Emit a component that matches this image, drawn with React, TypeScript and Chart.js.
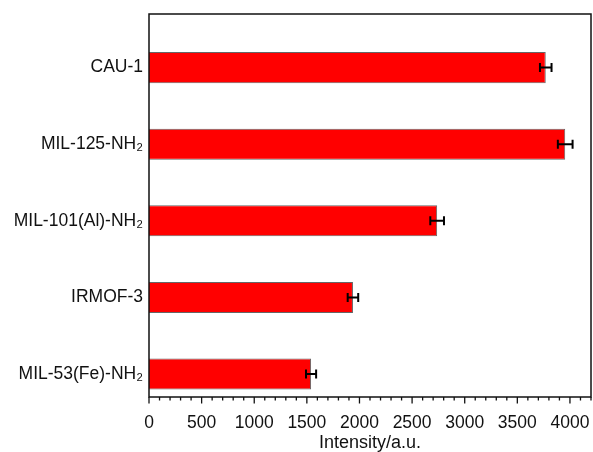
import React, { useEffect, useRef } from "react";
import { Chart, registerables } from "chart.js";

Chart.register(...registerables);

const categories = ["CAU-1", "MIL-125-NH₂", "MIL-101(Al)-NH₂", "IRMOF-3", "MIL-53(Fe)-NH₂"];
const positions = [1, 2, 3, 4, 5];
const intensity = [3770, 3955, 2738, 1938, 1540];
const errors = [55, 70, 65, 50, 48];
const xMin = 0;
const xMax = 4200;
const majorStep = 500;
const minorStep = 100;
const yMin = 0.3;
const yMax = 5.3;

const FONT = "'Liberation Sans', Arial, sans-serif";

const framePlugin = {
  id: "frame",
  afterDatasetsDraw(chart: any) {
    const { ctx, chartArea, scales } = chart;
    const xs = scales.x;
    const ys = scales.y;
    ctx.save();
    // error bars
    ctx.strokeStyle = "#000";
    ctx.lineWidth = 2;
    intensity.forEach((v, i) => {
      const y = ys.getPixelForValue(positions[i]);
      const x1 = xs.getPixelForValue(v - errors[i]);
      const x2 = xs.getPixelForValue(v + errors[i]);
      ctx.beginPath();
      ctx.moveTo(x1, y);
      ctx.lineTo(x2, y);
      ctx.moveTo(x1, y - 4.5);
      ctx.lineTo(x1, y + 4.5);
      ctx.moveTo(x2, y - 4.5);
      ctx.lineTo(x2, y + 4.5);
      ctx.stroke();
    });
    // frame
    ctx.strokeStyle = "#111";
    ctx.lineWidth = 1.5;
    ctx.strokeRect(chartArea.left, chartArea.top, chartArea.right - chartArea.left, chartArea.bottom - chartArea.top);
    // x ticks
    ctx.lineWidth = 1.3;
    for (let v = xMin; v <= xMax; v += minorStep) {
      const x = xs.getPixelForValue(v);
      const len = v % majorStep === 0 ? 6.5 : 3.5;
      ctx.beginPath();
      ctx.moveTo(x, chartArea.bottom);
      ctx.lineTo(x, chartArea.bottom + len);
      ctx.stroke();
    }
    ctx.restore();
  },
};

export default function App() {
  const ref = useRef<HTMLCanvasElement>(null);
  useEffect(() => {
    if (!ref.current) return;
    const chart = new Chart(ref.current, {
      type: "bar",
      data: {
        datasets: [
          {
            data: intensity.map((v, i) => ({ x: v, y: positions[i] })) as any,
            backgroundColor: "#ff0000",
            borderColor: "#666666",
            borderWidth: 1,
            barPercentage: 0.405,
            categoryPercentage: 1,
          },
        ],
      },
      options: {
        indexAxis: "y",
        animation: false,
        responsive: true,
        maintainAspectRatio: false,
        layout: { padding: { top: 14, right: 2, left: 0, bottom: 0 } },
        plugins: { legend: { display: false }, tooltip: { enabled: false } },
        scales: {
          x: {
            type: "linear",
            min: xMin,
            max: xMax,
            offset: false,
            grid: { display: false, drawTicks: false },
            border: { display: false },
            ticks: {
              stepSize: majorStep,
              padding: 16,
              color: "#111",
              font: { family: FONT, size: 17.5 },
              maxRotation: 0,
              autoSkip: false,
              callback: (v: any) => String(v),
            },
            afterBuildTicks: (s: any) => {
              const t: any[] = [];
              for (let v = xMin; v <= xMax; v += majorStep) t.push({ value: v });
              s.ticks = t;
            },
            afterFit: (s: any) => {
              s.height = 55;
              s.paddingLeft = 0;
              s.paddingRight = 0;
            },
            title: {
              display: true,
              text: "Intensity/a.u.",
              color: "#111",
              font: { family: FONT, size: 18, lineHeight: 1 },
              padding: { top: 0, bottom: 0 },
            },
          },
          y: {
            type: "linear",
            reverse: true,
            min: yMin,
            max: yMax,
            offset: false,
            grid: { display: false, drawTicks: false, offset: false },
            border: { display: false },
            ticks: {
              stepSize: 1,
              padding: 6,
              color: "#111",
              font: { family: FONT, size: 17.5 },
              autoSkip: false,
              callback: (v: any) => {
                const idx = positions.indexOf(Number(v));
                return idx >= 0 ? categories[idx] : "";
              },
            },
            afterBuildTicks: (s: any) => {
              s.ticks = positions.map((p) => ({ value: p }));
            },
            afterFit: (s: any) => {
              s.width = 149;
              s.paddingTop = 0;
              s.paddingBottom = 0;
            },
          },
        },
      },
      plugins: [framePlugin],
    });
    return () => chart.destroy();
  }, []);
  return (
    <div style={{ position: "fixed", left: 0, top: 0, width: 593, height: 452, background: "#fff" }}>
      <canvas ref={ref} />
    </div>
  );
}
